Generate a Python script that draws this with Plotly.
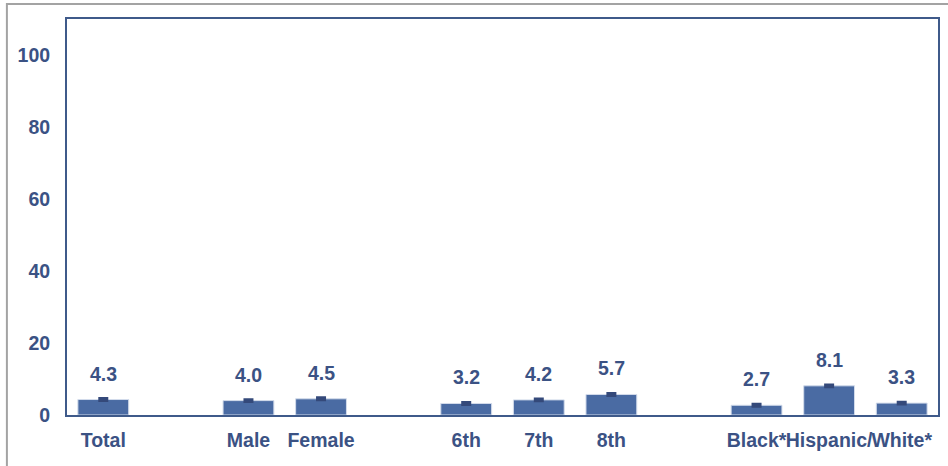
import plotly.graph_objects as go

categories = ["Total", "", "Male", "Female", "", "6th", "7th", "8th", "", "Black*", "Hispanic/", "White*"]
values = [4.3, None, 4.0, 4.5, None, 3.2, 4.2, 5.7, None, 2.7, 8.1, 3.3]
errors = [0.33, None, 0.33, 0.33, None, 0.33, 0.33, 0.33, None, 0.33, 0.33, 0.33]
y_ticks = [0, 20, 40, 60, 80, 100]

TEXT = "#3B5284"
BAR = "#4A6BA3"
ERR = "#34497A"
FRAME = "#3F5A8A"
FONT = "Liberation Sans, Arial, sans-serif"
FS = 19.5

xs = list(range(len(categories)))
bx = [x for x, v in zip(xs, values) if v is not None]
bv = [v for v in values if v is not None]
be = [e for e, v in zip(errors, values) if v is not None]

fig = go.Figure()
fig.add_trace(go.Bar(
    x=bx, y=bv,
    marker=dict(color=BAR, line=dict(color="#D3DCEB", width=1)),
    error_y=dict(type="data", array=be, visible=True, color=ERR, thickness=2.5, width=5),
    width=0.7,
    hoverinfo="skip",
))

for x, v in zip(bx, bv):
    fig.add_annotation(x=x, y=v, text=f"<b>{v:.1f}</b>", showarrow=False,
                       yanchor="middle", yshift=26,
                       font=dict(family=FONT, size=FS, color=TEXT))

fig.add_shape(type="rect", xref="paper", yref="paper",
              x0=-0.069, x1=1.2, y0=-0.3, y1=1.038,
              line=dict(color="#A3A3A3", width=2), fillcolor="rgba(0,0,0,0)", layer="below")

fig.update_layout(
    width=948, height=466,
    margin=dict(l=67, r=10, t=19, b=51, autoexpand=False),
    paper_bgcolor="white", plot_bgcolor="white",
    showlegend=False,
    font=dict(family=FONT, size=FS, color=TEXT),
    xaxis=dict(
        range=[-0.5, len(categories) - 0.5],
        tickvals=xs, ticktext=[f"<b>{c}</b>" if c else "" for c in categories],
        tickangle=0, automargin=False,
        showline=True, mirror=True, linecolor=FRAME, linewidth=2,
        showgrid=False, zeroline=False, ticks="",
        ticklabelstandoff=7,
        tickfont=dict(family=FONT, size=FS, color=TEXT),
    ),
    yaxis=dict(
        range=[0, 110], automargin=False,
        tickvals=y_ticks, ticktext=[f"<b>{t}</b>" for t in y_ticks],
        showline=True, mirror=True, linecolor=FRAME, linewidth=2,
        showgrid=False, zeroline=False, ticks="",
        ticklabelstandoff=11,
        tickfont=dict(family=FONT, size=FS, color=TEXT),
    ),
)

fig.write_html("out.html", config={"displayModeBar": False},
               post_script="document.body.style.margin='0';document.body.style.overflow='hidden';")
